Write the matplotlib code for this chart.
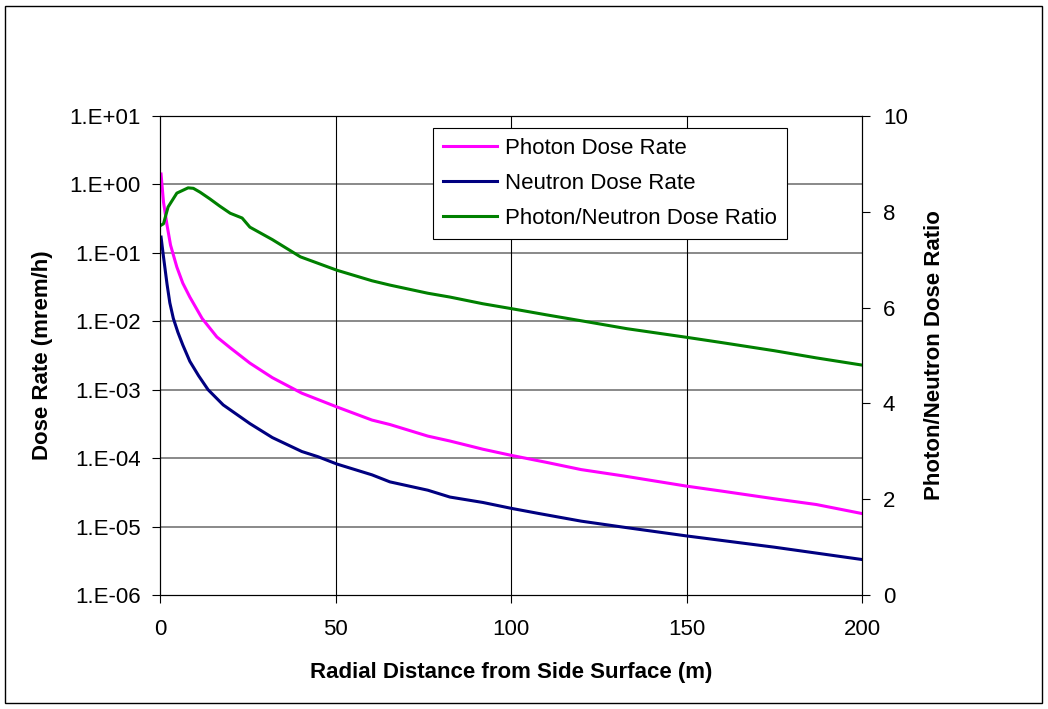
import math
import matplotlib
matplotlib.use("Agg")
import matplotlib.pyplot as plt
from matplotlib.ticker import FixedLocator, FuncFormatter, NullLocator
from matplotlib.patches import Rectangle

plt.rcParams['font.family'] = ['Liberation Sans', 'DejaVu Sans']

# radial distance (m) and dose rates (mrem/h)
dist_photon = [0.3, 1, 2, 3, 4.8, 6.5, 8.5, 12, 16.2, 20, 25.6, 32, 40.4, 50.4, 60.4, 65.5,
               76.3, 82.6, 92, 100, 110, 120, 132, 150, 160, 175, 187, 200]
photon = [1.42, 0.55, 0.255, 0.13, 0.062, 0.036, 0.0226, 0.011, 0.0059, 0.0041, 0.00245,
          0.0015, 0.00089, 0.00056, 0.00036, 0.00031, 0.00021, 0.000178, 0.000135,
          0.000110, 8.7e-05, 6.8e-05, 5.5e-05, 3.9e-05, 3.3e-05, 2.55e-05, 2.1e-05, 1.55e-05]

dist_neutron = [0.3, 1, 2, 2.8, 3.8, 5.1, 6.5, 8.5, 11, 13.7, 18, 25.6, 32, 40.4, 45, 50.4,
                60.4, 65.5, 76.3, 82.6, 92, 100, 108, 120, 132, 150, 175, 200]
neutron = [0.17, 0.087, 0.035, 0.0186, 0.011, 0.0069, 0.0045, 0.0026, 0.0016, 0.001, 0.0006,
           0.00032, 0.0002, 0.000125, 0.000105, 8.2e-05, 5.7e-05, 4.5e-05, 3.4e-05,
           2.7e-05, 2.25e-05, 1.85e-05, 1.55e-05, 1.2e-05, 9.8e-06, 7.3e-06, 5.0e-06, 3.3e-06]

dist_ratio = [0.3, 1, 2.3, 4.8, 8, 9.5, 11.4, 14.2, 17, 20, 23.4, 25.6, 32, 40, 50.4, 60.4,
              65.5, 76.3, 82.6, 92, 100, 110, 122, 133, 150, 160, 175, 187, 200]
ratio = [7.72, 7.75, 8.1, 8.39, 8.5, 8.49, 8.41, 8.27, 8.12, 7.97, 7.87, 7.68, 7.42, 7.06,
         6.78, 6.56, 6.47, 6.3, 6.22, 6.08, 5.98, 5.85, 5.7, 5.56, 5.38, 5.27, 5.1, 4.95, 4.8]

FS = 16

fig = plt.figure(figsize=(10.48, 7.09), dpi=100)
fig.patches.append(Rectangle((5 / 1048, 6 / 709), 1037 / 1048, 697 / 709,
                             transform=fig.transFigure, fill=False,
                             edgecolor='black', linewidth=1.0))

ax = fig.add_axes([160 / 1048, 1 - 595 / 709, 702 / 1048, 479 / 709])
ax.set_yscale('log')
ax.set_xlim(0, 200)
ax.set_ylim(1e-6, 10)

ax.plot(dist_photon, photon, color='#FF00FF', lw=2.2, label='Photon Dose Rate')
ax.plot(dist_neutron, neutron, color='#000080', lw=2.2, label='Neutron Dose Rate')

ax.yaxis.set_major_locator(FixedLocator([10.0 ** k for k in range(-6, 2)]))
ax.yaxis.set_minor_locator(NullLocator())
ax.yaxis.set_major_formatter(FuncFormatter(lambda v, p: '1.E%+03d' % round(math.log10(v))))
ax.set_xticks([0, 50, 100, 150, 200])

for y in [10.0 ** k for k in range(-5, 1)]:
    ax.axhline(y, color='#808080', lw=1.3, zorder=0)
for x in [50, 100, 150]:
    ax.axvline(x, color='black', lw=0.8, zorder=0)

ax.tick_params(axis='both', direction='out', length=6, labelsize=FS, width=0.8)
ax.tick_params(axis='y', pad=8)
ax.tick_params(axis='x', pad=11)
for s in ax.spines.values():
    s.set_linewidth(0.8)

ax.set_xlabel('Radial Distance from Side Surface (m)', fontsize=FS,
              fontweight='bold', labelpad=16)
ax.set_ylabel('Dose Rate (mrem/h)', fontsize=FS, fontweight='bold', labelpad=12)

ax2 = ax.twinx()
ax2.set_ylim(0, 10)
ax2.set_yticks([0, 2, 4, 6, 8, 10])
ax2.plot(dist_ratio, ratio, color='#008000', lw=2.2, label='Photon/Neutron Dose Ratio')
ax2.tick_params(axis='y', direction='out', length=6, labelsize=FS, width=0.8, pad=9)
ax2.set_ylabel('Photon/Neutron Dose Ratio', fontsize=FS, fontweight='bold', labelpad=12)

h1, l1 = ax.get_legend_handles_labels()
h2, l2 = ax2.get_legend_handles_labels()
leg = ax2.legend(h1 + h2, l1 + l2, loc='upper left',
                 bbox_to_anchor=(433 / 1048, 1 - 128 / 709),
                 bbox_transform=fig.transFigure, fontsize=FS, frameon=True,
                 fancybox=False, edgecolor='black', framealpha=1,
                 handlelength=2.45, handletextpad=0.35, labelspacing=0.62,
                 borderpad=0.45, borderaxespad=0)
leg.get_frame().set_linewidth(0.8)

fig.savefig('out.png', dpi=100)
